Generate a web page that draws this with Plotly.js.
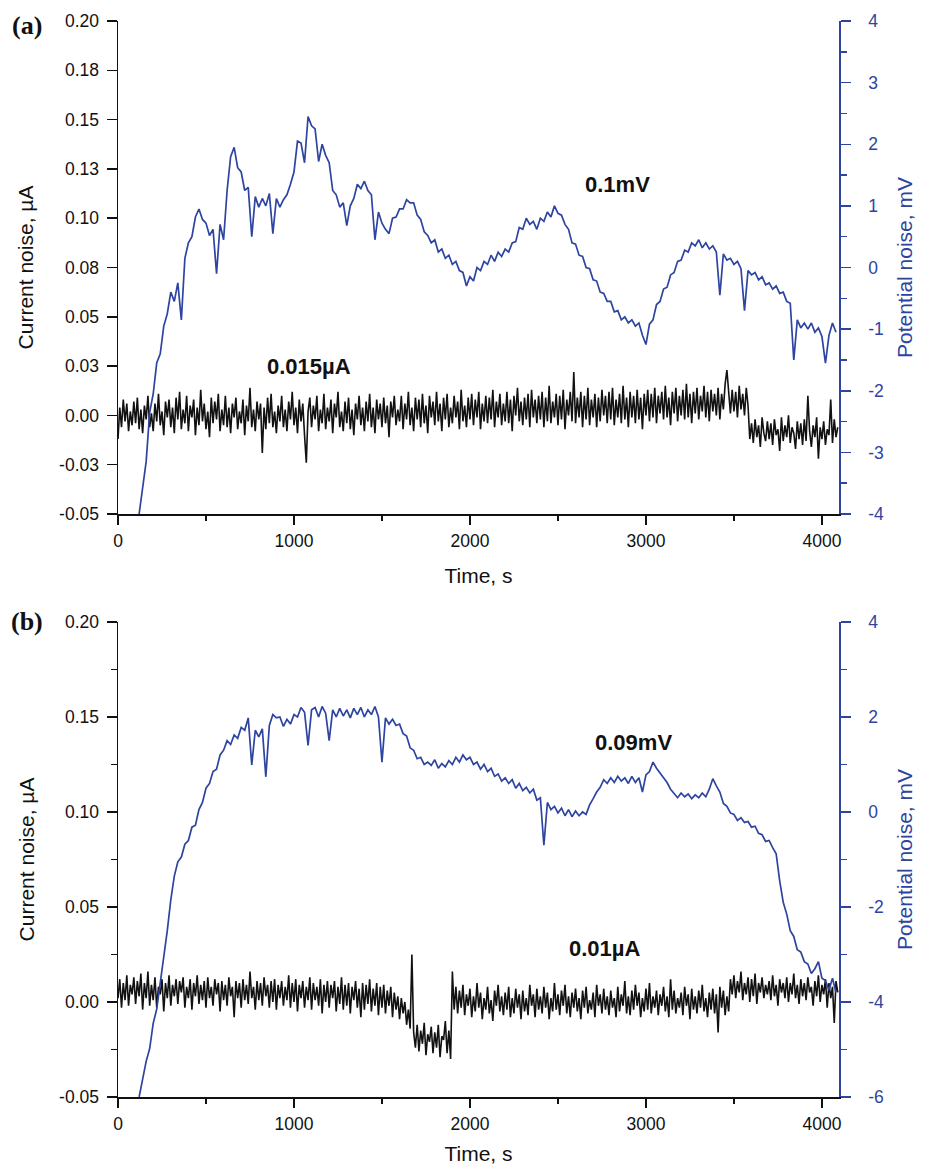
<!DOCTYPE html>
<html>
<head>
<meta charset="utf-8">
<script src="https://cdn.plot.ly/plotly-3.0.1.min.js"></script>
<style>html,body{margin:0;padding:0;background:#fff;}#chart{width:928px;height:1165px;}</style>
</head>
<body>
<div id="chart"></div>
<script>
// ---- sampling (seconds) ----
const currentStart = 0;      // first current sample, s
const currentStep = 10;      // current sampling interval, s
const potentialStart = 120;  // first potential sample shown, s
const potentialStep = 20;    // potential sampling interval, s

// ---- panel (a): current noise, µA ----
const currentA = [
-.012,.004,-.006,.008,-.003,.006,-.008,.002,-.005,.007,
-.004,.009,-.007,.003,-.009,.005,-.002,.010,-.006,.001,
-.008,.006,-.003,.011,-.005,.002,-.010,.007,-.001,.008,
-.006,.004,-.009,.009,-.002,.012,-.007,.003,-.004,.010,
-.008,.005,-.001,.008,-.010,.004,-.005,.013,-.003,.006,
-.007,.002,-.011,.009,-.004,.007,-.002,.011,-.008,.003,
-.005,.010,-.006,.004,-.009,.006,-.001,.009,-.007,.002,
-.004,.008,-.010,.005,-.003,.014,-.006,.003,-.008,.007,
-.002,.006,-.019,.004,-.007,.009,-.004,.011,-.006,.002,
-.009,.005,-.003,.010,-.006,.003,-.008,.007,-.002,.012,
-.005,.004,-.009,.008,-.003,.006,-.010,-.024,.002,.009,
-.006,.005,-.002,.010,-.008,.003,-.004,.011,-.007,.004,
-.003,.008,-.009,.006,-.001,.012,-.006,.002,-.008,.007,
-.004,.009,-.007,.003,-.010,.006,-.002,.010,-.005,.004,
-.008,.007,-.003,.011,-.006,.004,-.009,.008,-.002,.006,
-.006,.009,-.004,.005,-.011,.007,-.001,.010,-.005,.003,
-.003,.010,-.007,.006,-.002,.012,-.005,.004,-.008,.009,
-.002,.008,-.006,.011,-.004,.005,-.009,.010,-.001,.007,
-.005,.012,-.003,.006,-.008,.009,-.002,.011,-.006,.004,
-.004,.010,-.001,.007,-.007,.013,-.003,.005,-.006,.009,
-.002,.011,-.005,.008,-.001,.012,-.007,.006,-.003,.010,
-.004,.009,-.002,.013,-.006,.007,-.001,.011,-.005,.006,
-.003,.012,-.004,.008,-.008,.010,.000,.014,-.003,.007,
-.005,.009,-.002,.011,-.006,.013,-.001,.008,-.004,.010,
-.002,.012,-.006,.009,-.003,.015,-.004,.007,-.001,.011,
-.005,.010,-.002,.013,-.007,.008,.000,.012,-.003,.022,
-.004,.009,-.001,.012,-.006,.010,-.002,.014,-.005,.008,
-.001,.011,-.006,.009,-.003,.013,.000,.010,-.004,.012,
-.002,.014,-.005,.008,-.001,.011,-.004,.015,-.002,.009,
-.006,.012,-.001,.010,-.004,.013,-.002,.009,-.007,.011,
.000,.013,-.003,.011,-.001,.014,-.004,.010,.001,.012,
-.002,.015,-.001,.009,-.005,.012,.001,.014,-.003,.010,
.000,.013,-.002,.016,-.001,.011,-.004,.012,.001,.014,
-.002,.010,.002,.015,-.001,.012,-.003,.013,.002,.011,
.000,.014,-.002,.011,.003,.016,.023,.010,.001,.013,
.002,.012,-.001,.015,.003,.011,.000,.014,.005,-.012,
-.004,-.014,-.002,-.011,-.005,-.016,-.001,-.009,-.013,-.003,
-.012,-.004,-.015,-.002,-.010,-.007,-.018,-.001,-.013,-.005,
-.011,.000,-.014,-.006,-.009,-.017,-.003,-.012,-.004,-.015,
-.002,-.013,.010,-.008,-.016,-.005,-.011,-.001,-.022,-.006,
-.012,-.003,-.015,-.007,-.010,.008,-.014,-.002,-.011,-.006
];

// ---- panel (a): potential noise, mV ----
const potentialA = [
-4.00,-3.55,-3.15,-2.35,-2.05,-1.55,-1.40,-0.95,-0.75,-0.40,
-0.55,-0.25,-0.85,0.15,0.40,0.50,0.82,0.95,0.78,0.72,
0.52,0.62,-0.10,0.70,0.45,1.25,1.80,1.95,1.62,1.55,
1.25,1.30,0.50,1.15,0.98,1.12,1.00,1.20,0.55,1.12,
0.98,1.10,1.18,1.35,1.55,2.05,2.02,1.70,2.45,2.30,
2.25,1.72,2.00,1.82,1.70,1.25,1.18,0.98,1.05,0.68,
1.00,1.12,1.35,1.28,1.40,1.25,1.18,0.45,0.90,0.72,
0.62,0.55,0.80,0.82,0.95,0.95,1.10,1.05,1.05,0.85,
0.78,0.58,0.52,0.40,0.45,0.25,0.30,0.15,0.20,0.05,
0.10,-0.05,-0.08,-0.30,-0.15,-0.22,0.00,-0.05,0.10,0.05,
0.20,0.10,0.25,0.18,0.30,0.25,0.40,0.42,0.65,0.62,
0.80,0.70,0.75,0.62,0.80,0.75,0.90,0.82,1.00,0.88,
0.85,0.70,0.62,0.40,0.38,0.20,0.18,0.00,-0.02,-0.20,
-0.22,-0.40,-0.42,-0.55,-0.55,-0.72,-0.70,-0.85,-0.80,-0.90,
-0.85,-0.95,-0.90,-1.10,-1.25,-0.92,-0.85,-0.60,-0.55,-0.35,
-0.32,-0.12,-0.08,0.10,0.12,0.28,0.25,0.40,0.35,0.45,
0.32,0.40,0.30,0.35,0.25,-0.45,0.22,0.12,0.15,0.05,
0.10,-0.02,-0.70,-0.05,-0.12,-0.08,-0.20,-0.15,-0.28,-0.25,
-0.35,-0.30,-0.42,-0.40,-0.55,-0.58,-1.50,-0.85,-0.98,-0.90,
-1.00,-0.90,-1.05,-0.98,-1.12,-1.55,-1.10,-0.90,-1.05
];

// ---- panel (b): current noise, µA ----
const currentB = [
.002,.012,-.003,.010,.001,.014,-.002,.009,.004,.013,
-.001,.011,.003,.015,-.004,.010,.002,.016,-.002,.009,
.001,.013,-.003,.008,.004,.012,-.005,.010,.002,.014,
-.002,.009,.003,.012,-.001,.011,.005,.013,-.003,.008,
.002,.012,-.004,.010,.003,.014,-.001,.009,.001,.011,
-.003,.013,.002,.008,-.002,.012,.004,.010,-.005,.011,
.001,.009,-.002,.013,.003,.008,-.008,.011,.002,.010,
-.003,.012,.001,.009,-.001,.016,.002,.008,-.004,.011,
.001,.010,-.002,.013,.003,.009,-.003,.011,.000,.012,
-.004,.009,.002,.011,-.002,.008,.001,.014,-.003,.010,
.000,.012,-.005,.009,.002,.011,-.003,.008,.001,.013,
-.004,.010,.001,.008,-.002,.012,-.006,.009,.000,.011,
-.003,.009,.002,.011,-.005,.008,-.001,.013,-.004,.009,
-.002,.010,-.006,.008,.001,.011,-.003,.007,-.008,.010,
-.004,.009,-.001,.012,-.005,.007,-.002,.010,-.007,.008,
-.003,.009,-.006,.006,-.002,.008,-.008,.005,-.004,.003,
-.009,.002,-.006,.000,-.012,-.004,-.014,.025,-.016,-.024,
-.012,-.026,-.015,-.022,-.011,-.028,-.017,-.021,-.013,-.027,
-.016,-.024,-.012,-.029,-.018,-.020,-.010,-.027,-.015,-.030,
.016,-.004,.008,-.006,.006,-.003,.009,-.007,.004,-.002,
.007,-.008,.003,-.005,.010,-.003,.005,-.009,.002,-.004,
.008,-.006,.001,-.010,.006,-.002,.009,-.005,.003,-.007,
.005,-.004,.008,-.008,.002,-.006,.007,-.003,.004,-.009,
.006,-.005,.002,-.007,.009,-.002,.004,-.008,.007,-.004,
.003,-.006,.008,-.003,.005,-.009,.002,-.005,.010,-.004,
.004,-.007,.006,-.002,.009,-.006,.003,-.008,.005,-.003,
.007,-.005,.002,-.009,.006,-.003,.008,-.006,.001,-.004,
.005,-.008,.009,-.002,.004,-.006,.007,-.004,.003,-.007,
.006,-.003,.002,-.008,.008,-.005,.004,-.002,.011,-.006,
.003,-.007,.006,-.004,.009,-.002,.005,-.008,.002,-.005,
.007,-.004,.010,-.006,.003,-.003,.006,-.007,.004,-.002,
.008,-.005,.003,-.008,.012,-.004,.006,-.006,.002,-.003,
.005,-.007,.008,-.002,.004,-.009,.007,-.004,.003,-.006,
.006,-.003,.009,-.005,.002,-.008,.005,-.004,.007,-.006,
.004,-.016,.008,-.003,.006,-.007,.003,-.005,.012,.004,
.014,.002,.011,.005,.016,.001,.010,.004,.013,.000,
.012,.003,.015,-.001,.010,.005,.013,.002,.009,.004,
.011,.001,.014,.003,.009,-.002,.012,.005,.010,.002,
.013,.000,.010,.004,.015,.002,.009,-.001,.012,.003,
.010,.001,.013,.005,.008,-.002,.011,.003,.014,.000,
.009,.004,.012,-.003,.010,.002,.008,-.011,.011,.005
];

// ---- panel (b): potential noise, mV ----
const potentialB = [
-6.00,-5.62,-5.25,-4.98,-4.45,-4.15,-3.62,-3.10,-2.50,-1.85,
-1.35,-1.05,-0.95,-0.68,-0.60,-0.32,-0.28,0.05,0.20,0.50,
0.60,0.85,0.90,1.20,1.30,1.50,1.42,1.62,1.55,1.78,
1.72,1.98,0.99,1.72,1.58,1.75,0.74,1.82,2.05,1.98,
2.00,1.80,1.95,1.85,2.05,2.00,2.20,2.10,1.40,2.15,
2.20,2.00,2.22,2.08,1.50,2.15,2.00,2.18,2.02,2.15,
1.98,2.18,2.05,2.20,2.00,2.15,2.05,2.22,2.00,1.05,
1.98,1.85,1.95,1.82,1.85,1.65,1.60,1.35,1.30,1.12,
1.15,1.00,1.05,0.98,1.10,0.92,1.02,0.95,1.08,1.00,
1.15,1.05,1.20,1.10,1.15,1.00,1.05,0.90,1.00,0.85,
0.92,0.75,0.80,0.65,0.72,0.60,0.68,0.50,0.60,0.45,
0.52,0.40,0.48,0.25,0.30,-0.70,0.20,0.05,0.12,-0.02,
0.08,-0.08,0.05,-0.10,0.02,-0.08,0.00,-0.05,0.15,0.28,
0.42,0.52,0.68,0.60,0.72,0.62,0.75,0.65,0.72,0.60,
0.75,0.62,0.72,0.42,0.78,0.85,1.05,0.92,0.82,0.72,
0.62,0.48,0.40,0.30,0.40,0.32,0.38,0.28,0.36,0.30,
0.40,0.32,0.48,0.70,0.55,0.42,0.18,0.12,-0.02,-0.05,
-0.18,-0.12,-0.22,-0.20,-0.32,-0.30,-0.45,-0.48,-0.62,-0.60,
-0.75,-0.88,-1.45,-1.90,-2.15,-2.50,-2.62,-2.90,-2.95,-3.15,
-3.20,-3.40,-3.30,-3.15,-3.50,-3.55,-3.75,-3.50,-3.80
];

// ---- axis ticks and tick labels ----
const timeTicks = [0, 1000, 2000, 3000, 4000];
const timeMinorTicks = [500, 1500, 2500, 3500];
const currentTicksA = [-0.05, -0.025, 0, 0.025, 0.05, 0.075, 0.1, 0.125, 0.15, 0.175, 0.2];
const currentTickTextA = ['-0.05','-0.03','0.00','0.03','0.05','0.08','0.10','0.13','0.15','0.18','0.20'];
const potentialTicksA = [-4, -3, -2, -1, 0, 1, 2, 3, 4];
const potentialTickTextA = ['-4','-3','-2','-1','0','1','2','3','4'];
const currentTicksB = [-0.05, 0, 0.05, 0.1, 0.15, 0.2];
const currentTickTextB = ['-0.05','0.00','0.05','0.10','0.15','0.20'];
const currentMinorB = [-0.025, 0.025, 0.075, 0.125, 0.175];
const potentialTicksB = [-6, -4, -2, 0, 2, 4];
const potentialTickTextB = ['-6','-4','-2','0','2','4'];

const BLUE = '#2d44a0';
const FONT = 'Liberation Sans, Arial, Helvetica, sans-serif';
const tickFont = {family: FONT, size: 17.5, color: '#111'};
const titleFont = {family: FONT, size: 21, color: '#111'};

const traces = [
  {x0: currentStart, dx: currentStep, y: currentA, type: 'scatter', mode: 'lines',
   xaxis: 'x', yaxis: 'y', line: {color: '#111', width: 1.6}, hoverinfo: 'skip'},
  {x0: potentialStart, dx: potentialStep, y: potentialA, type: 'scatter', mode: 'lines',
   xaxis: 'x', yaxis: 'y2', line: {color: BLUE, width: 1.7}, hoverinfo: 'skip'},
  {x0: currentStart, dx: currentStep, y: currentB, type: 'scatter', mode: 'lines',
   xaxis: 'x2', yaxis: 'y3', line: {color: '#111', width: 1.6}, hoverinfo: 'skip'},
  {x0: potentialStart, dx: potentialStep, y: potentialB, type: 'scatter', mode: 'lines',
   xaxis: 'x2', yaxis: 'y4', line: {color: BLUE, width: 1.7}, hoverinfo: 'skip'}
];

const xRange = [0, 4097];
function xAxis(anchor) {
  return {
    anchor: anchor, range: xRange, tickvals: timeTicks, ticks: 'outside', ticklen: 9, tickwidth: 1.5,
    tickcolor: '#111', showline: true, linecolor: '#111', linewidth: 1.5, showgrid: false, zeroline: false,
    tickfont: tickFont, ticklabelstandoff: 1,
    minor: {tickvals: timeMinorTicks, ticks: 'outside', ticklen: 5, tickwidth: 1.5, tickcolor: '#111'},
    title: {text: 'Time, s', font: titleFont, standoff: 19}
  };
}
function xTop(anchor, over) {
  return {
    anchor: anchor, overlaying: over, side: 'top', range: xRange, tickvals: timeTicks,
    ticks: 'inside', ticklen: 8, tickwidth: 1.5, tickcolor: '#111', showticklabels: false,
    showline: true, linecolor: '#111', linewidth: 1.5, showgrid: false, zeroline: false
  };
}
function leftAxis(domain, vals, text, minor) {
  const a = {
    domain: domain, range: [-0.05, 0.2], tickvals: vals, ticktext: text,
    ticks: 'outside', ticklen: 10, tickwidth: 1.5, tickcolor: '#111', showline: true, linecolor: '#111',
    linewidth: 1.5, showgrid: false, zeroline: false, tickfont: tickFont, ticklabelstandoff: 4,
    title: {text: 'Current noise, µA', font: titleFont, standoff: 19}
  };
  if (minor) a.minor = {tickvals: minor, ticks: 'outside', ticklen: 6, tickwidth: 1.5, tickcolor: '#111'};
  return a;
}
function rightAxis(over, anchor, range, vals, text, minorDtick) {
  return {
    overlaying: over, side: 'right', anchor: anchor, range: range, tickvals: vals, ticktext: text,
    ticks: 'outside', ticklen: 10, tickwidth: 1.5, tickcolor: BLUE, showline: true, linecolor: BLUE,
    linewidth: 1.8, showgrid: false, zeroline: false, tickfont: {family: FONT, size: 17.5, color: BLUE},
    ticklabelstandoff: 14,
    minor: {dtick: minorDtick, tick0: 0, ticks: 'outside', ticklen: 6, tickwidth: 1.5, tickcolor: BLUE},
    title: {text: 'Potential noise, mV', font: {family: FONT, size: 21, color: BLUE}, standoff: 14}
  };
}

const layout = {
  width: 928, height: 1165,
  margin: {l: 118, r: 89, t: 21, b: 68},
  paper_bgcolor: '#fff', plot_bgcolor: '#fff',
  showlegend: false,
  xaxis: xAxis('y'),
  xaxis2: xAxis('y3'),
  xaxis3: xTop('y', 'x'),
  xaxis4: xTop('y3', 'x2'),
  yaxis: leftAxis([0.5418, 1], currentTicksA, currentTickTextA, null),
  yaxis2: rightAxis('y', 'x', [-4, 4], potentialTicksA, potentialTickTextA, 0.5),
  yaxis3: leftAxis([0, 0.4415], currentTicksB, currentTickTextB, currentMinorB),
  yaxis4: rightAxis('y3', 'x2', [-6, 4], potentialTicksB, potentialTickTextB, 1),
  annotations: [
    {text: '<b>(a)</b>', xref: 'paper', yref: 'paper', x: -0.126, y: 0.996, xanchor: 'center', yanchor: 'middle',
     showarrow: false, font: {family: 'Liberation Serif, Times New Roman, serif', size: 26, color: '#111'}},
    {text: '<b>(b)</b>', xref: 'paper', yref: 'paper', x: -0.126, y: 0.4418, xanchor: 'center', yanchor: 'middle',
     showarrow: false, font: {family: 'Liberation Serif, Times New Roman, serif', size: 26, color: '#111'}},
    {text: '<b>0.1mV</b>', xref: 'x', yref: 'y2', x: 2838, y: 1.34, showarrow: false,
     font: {family: FONT, size: 22, color: '#111'}},
    {text: '<b>0.015µA</b>', xref: 'x', yref: 'y', x: 1084, y: 0.0246, showarrow: false,
     font: {family: FONT, size: 22, color: '#111'}},
    {text: '<b>0.09mV</b>', xref: 'x2', yref: 'y4', x: 2928, y: 1.47, showarrow: false,
     font: {family: FONT, size: 22, color: '#111'}},
    {text: '<b>0.01µA</b>', xref: 'x2', yref: 'y3', x: 2764, y: 0.0279, showarrow: false,
     font: {family: FONT, size: 22, color: '#111'}}
  ]
};

Plotly.newPlot('chart', traces, layout, {staticPlot: true, displayModeBar: false});
</script>
</body>
</html>
